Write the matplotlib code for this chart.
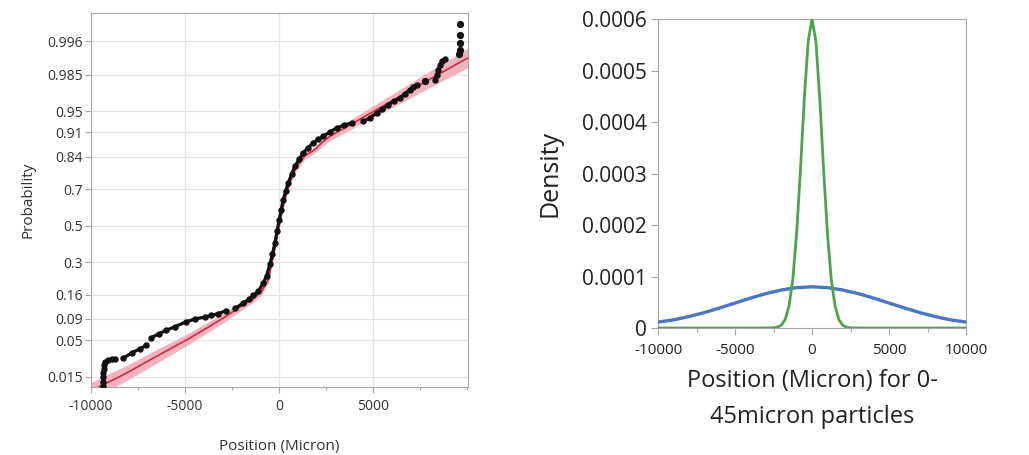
import numpy as np
import matplotlib
matplotlib.use("Agg")
import matplotlib.pyplot as plt
from matplotlib.ticker import NullLocator, MultipleLocator
from statistics import NormalDist

plt.rcParams['font.family'] = ['Open Sans', 'DejaVu Sans']
plt.rcParams['axes.unicode_minus'] = False

# ---- left panel: normal quantile plot (position vs probability) ----
prob_ticks = [0.015, 0.05, 0.09, 0.16, 0.3, 0.5, 0.7, 0.84, 0.91, 0.95, 0.985, 0.996]

# vertical stack at the far left
stack_pos = [-9350, -9345, -9340, -9335, -9325, -9310, -9270]
stack_prob = [0.0107, 0.0125, 0.0146, 0.0170, 0.0197, 0.0228, 0.0250]
dash_pos = [-9100, -8880, -8720]
dash_prob = [0.0270, 0.0273, 0.0280]
# lower tail, chain of dots
tail_pos = [-8280, -7840, -7390, -7070]
tail_prob = [0.0285, 0.0335, 0.0384, 0.0425]
tail2_pos = [-6830, -6380, -6010, -5530, -4970, -4470, -3940, -3600, -3230,
             -2820]
tail2_prob = [0.0530, 0.0601, 0.0660, 0.0731, 0.0829, 0.0897, 0.0944, 0.0985,
              0.1028, 0.1107]
# dense central run
main_pos = [-2340, -1900, -1600, -1370, -1100, -835, -655, -480, -350, -213,
            -100, 16, 120, 229, 360, 495, 670, 851, 1070, 1293, 1550, 1825,
            2100, 2357, 2700, 3069, 3450, 3867]
main_prob = [0.117, 0.133, 0.145, 0.158, 0.172, 0.205, 0.235, 0.29, 0.34, 0.40,
             0.47, 0.534, 0.59, 0.646, 0.69, 0.73, 0.77, 0.803, 0.83, 0.852,
             0.869, 0.883, 0.893, 0.9006, 0.911, 0.920, 0.926, 0.930]
upper_pos = [4486, 4850, 5195, 5500, 5815, 6120, 6436, 6700, 6968, 7150, 7323]
upper_prob = [0.933, 0.940, 0.9475, 0.953, 0.959, 0.963, 0.967, 0.971, 0.9748,
              0.977, 0.9788]
lone_pos = [7766]
lone_prob = [0.9811]
high_pos = [8298, 8400, 8475, 8570, 8652, 8830]
high_prob = [0.9822, 0.985, 0.9876, 0.9895, 0.9910, 0.9918]
top_pos = [9590, 9627, 9627, 9627, 9627]
top_prob = [0.9931, 0.9943, 0.9957, 0.9970, 0.9981]

# fitted line and its confidence band
fit_pos = [-10000, -9345, -8280, -6510, -4734, -2960, -2075, -1370, -920, -570,
           -372, -160, 53, 266, 532, 904, 1383, 1915, 2287, 2713, 4500, 6436,
           8300, 10053]
fit_prob = [0.00875, 0.01107, 0.0160, 0.0301, 0.0530, 0.0919, 0.1210, 0.1457,
            0.1723, 0.2186, 0.2974, 0.4032, 0.5231, 0.6297, 0.7224, 0.7981,
            0.8430, 0.8630, 0.8838, 0.9006, 0.9406, 0.9685, 0.9841, 0.9921]
band_lo = [0.00628, 0.00802, 0.0121, 0.0239, 0.0449, 0.0809, 0.1093, 0.1346,
           0.1599, 0.2041, 0.2837, 0.3878, 0.5072, 0.6145, 0.7088, 0.7838,
           0.8307, 0.8518, 0.8716, 0.8897, 0.9306, 0.9607, 0.9786, 0.9885]
band_hi = [0.0120, 0.0151, 0.0210, 0.0375, 0.0623, 0.1040, 0.1335, 0.1575,
           0.1854, 0.2336, 0.3114, 0.4188, 0.5390, 0.6447, 0.7357, 0.8119,
           0.8547, 0.8737, 0.8951, 0.9107, 0.9495, 0.9749, 0.9883, 0.99466]

# ---- right panel: fitted densities ----
dens_x = [-10000, -9000, -8000, -7000, -6000, -5000, -4000, -3000, -2000, -1000,
          0, 1000, 2000, 3000, 4000, 5000, 6000, 7000, 8000, 9000, 10000]
wide_density = [1.15e-5, 1.58e-5, 2.22e-5, 2.99e-5, 3.89e-5, 4.85e-5, 5.81e-5,
                6.68e-5, 7.37e-5, 7.84e-5, 8.0e-5, 7.84e-5, 7.37e-5, 6.68e-5,
                5.81e-5, 4.85e-5, 3.89e-5, 2.99e-5, 2.22e-5, 1.58e-5, 1.15e-5]
narrow_x = [-10000, -5000, -3000, -2500, -2250, -2000, -1750, -1500, -1250,
            -1000, -750, -500, -250, 0, 250, 500, 750, 1000, 1250, 1500, 1750,
            2000, 2250, 2500, 3000, 5000, 10000]
narrow_density = [0, 0, 0, 0.4e-6, 1.5e-6, 5.3e-6, 1.6e-5, 4.2e-5, 9.4e-5,
                  1.84e-4, 3.08e-4, 4.46e-4, 5.57e-4, 6.0e-4, 5.57e-4, 4.46e-4,
                  3.08e-4, 1.84e-4, 9.4e-5, 4.2e-5, 1.6e-5, 5.3e-6, 1.5e-6,
                  0.4e-6, 0, 0, 0]

_nd = NormalDist()
_ppf = np.vectorize(lambda v: _nd.inv_cdf(min(max(v, 1e-9), 1 - 1e-9)), otypes=[float])
_cdf = np.vectorize(lambda v: _nd.cdf(v), otypes=[float])


def fwd(p):
    return _ppf(np.asarray(p, dtype=float))


def inv(z):
    return _cdf(np.asarray(z, dtype=float))


fig = plt.figure(figsize=(10.29, 4.55), dpi=100)
ax1 = fig.add_axes([0.0884, 0.1495, 0.3664, 0.822])
ax2 = fig.add_axes([0.6395, 0.2791, 0.2993, 0.6791])

frame = '#a6a6a6'
grid = '#e3e3e3'
txt = '#333333'

ax1.set_yscale('function', functions=(fwd, inv))
ax1.set_xlim(-10000, 10060)
ax1.set_ylim(0.01017, 0.99889)
ax1.set_yticks(prob_ticks)
ax1.set_yticklabels([str(t) for t in prob_ticks])
ax1.yaxis.set_minor_locator(NullLocator())
ax1.set_xticks([-10000, -5000, 0, 5000])
ax1.set_xticklabels(['-10000', '-5000', '0', '5000'])
ax1.xaxis.set_minor_locator(MultipleLocator(2500))
ax1.grid(True, which='major', color=grid, lw=0.9, zorder=0)
for s in ax1.spines.values():
    s.set_color(frame)
ax1.tick_params(axis='both', which='both', colors=frame, labelcolor=txt,
                labelsize=10, length=4, width=0.8, pad=2)
ax1.tick_params(axis='x', which='major', pad=5)
ax1.tick_params(axis='x', which='minor', length=2.5)

ax1.fill_between(fit_pos, band_lo, band_hi, color='#f2b3bd', lw=0, zorder=2)
ax1.plot(fit_pos, fit_prob, color='#cc2a45', lw=1.2, zorder=3)

dot = '#111111'
for xs, ps in [(stack_pos, stack_prob), (dash_pos, dash_prob),
               (tail_pos, tail_prob), (tail2_pos, tail2_prob),
               (main_pos, main_prob), (upper_pos, upper_prob),
               (high_pos, high_prob)]:
    ax1.plot(xs, ps, color=dot, lw=2.3, solid_capstyle='round', zorder=4)
    ax1.plot(xs, ps, 'o', color=dot, ms=3.6, zorder=4)
for xs, ps in [(lone_pos, lone_prob), (top_pos, top_prob)]:
    ax1.plot(xs, ps, 'o', color=dot, ms=4.2, zorder=4)

ax1.set_ylabel('Probability', fontsize=11, color=txt, labelpad=8)
ax1.set_xlabel('Position (Micron)', fontsize=11, color=txt, labelpad=18)

# right panel
ax2.plot(dens_x, wide_density, color='#4a76c2', lw=2.4, zorder=3)
ax2.plot(narrow_x, narrow_density, color='#4ca54a', lw=2.0, zorder=4)
ax2.set_xlim(-10000, 10000)
ax2.set_ylim(0, 0.0006)
ax2.set_yticks([0, 0.0001, 0.0002, 0.0003, 0.0004, 0.0005, 0.0006])
ax2.set_yticklabels(['0', '0.0001', '0.0002', '0.0003', '0.0004', '0.0005', '0.0006'])
ax2.set_xticks([-10000, -5000, 0, 5000, 10000])
ax2.set_xticklabels(['-10000', '-5000', '0', '5000', '10000'])
ax2.xaxis.set_minor_locator(MultipleLocator(2500))
for s in ax2.spines.values():
    s.set_color(frame)
ax2.tick_params(axis='y', colors=frame, labelcolor='#222222', labelsize=15,
                length=5, width=0.8, pad=3)
ax2.tick_params(axis='x', which='major', colors=frame, labelcolor='#222222',
                labelsize=11, length=5, width=0.8, pad=6)
ax2.tick_params(axis='x', which='minor', colors=frame, length=3, width=0.8)
ax2.set_ylabel('Density', fontsize=18, color='#222222', labelpad=14)
ax2.set_xlabel('Position (Micron) for 0-\n45micron particles', fontsize=17,
               color='#222222', labelpad=8, linespacing=1.65)

fig.savefig('out.png', dpi=100)
